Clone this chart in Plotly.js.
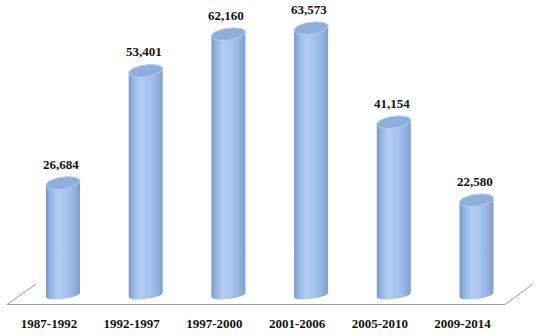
<!DOCTYPE html>
<html>
<head>
<meta charset="utf-8">
<script src="https://cdn.plot.ly/plotly-3.0.1.min.js"></script>
<style>html,body{margin:0;padding:0;background:#fff;}#chart{width:538px;height:336px;}</style>
</head>
<body>
<div id="chart"></div>
<script>
// ---- data ----
const categories = ['1987-1992', '1992-1997', '1997-2000', '2001-2006', '2005-2010', '2009-2014'];
const values = [26684, 53401, 62160, 63573, 41154, 22580];

// ---- layout geometry ----
const W = 538, H = 336;
const MB = 28;                       // bottom margin
const plotH = H - MB;
const xRange = [-0.5925, 5.913];
const yRange = [-3098, 70299];
const xu = (xRange[1] - xRange[0]) / W;      // x units per px
const yu = (yRange[1] - yRange[0]) / plotH;  // y units per px

const depthPx = 14;     // cylinder shift to the right (3D depth)
const halfW = 17;       // cylinder half width, px
const topB = 6;         // top ellipse vertical semi-axis, px
const botB = 4;         // bottom ellipse vertical semi-axis, px
const shear = 0.12;     // perspective tilt
const N = 48;

const fontFam = '"Liberation Serif", "Times New Roman", serif';
const traces = [];
const annotations = [];

values.forEach((v, i) => {
  const xc = i + depthPx * xu;
  const a = halfW * xu;
  // body polygon
  const bx = [], by = [];
  // bottom front arc (screen-lower half): t from PI to 2PI
  for (let k = 0; k <= N; k++) {
    const t = Math.PI + Math.PI * k / N;
    bx.push(xc + a * Math.cos(t));
    by.push((botB * Math.sin(t) + shear * halfW * Math.cos(t)) * yu);
  }
  // top back arc: t from 0 to PI
  for (let k = 0; k <= N; k++) {
    const t = Math.PI * k / N;
    bx.push(xc + a * Math.cos(t));
    by.push(v + (topB * Math.sin(t) + shear * halfW * Math.cos(t)) * yu);
  }
  bx.push(bx[0]); by.push(by[0]);
  traces.push({
    type: 'scatter', mode: 'lines', x: bx, y: by, fill: 'toself',
    line: {width: 0, color: 'rgba(0,0,0,0)'},
    fillgradient: {
      type: 'horizontal', start: xc - a, stop: xc + a,
      colorscale: [[0, '#7898c6'], [0.12, '#92b3e0'], [0.35, '#b2cdf3'], [0.6, '#a6c3ee'], [0.85, '#90b1df'], [1, '#7d9dca']]
    },
    hoverinfo: 'skip', showlegend: false
  });
  // top ellipse
  const tx = [], ty = [];
  for (let k = 0; k <= 2 * N; k++) {
    const t = 2 * Math.PI * k / (2 * N);
    tx.push(xc + a * Math.cos(t));
    ty.push(v + (topB * Math.sin(t) + shear * halfW * Math.cos(t)) * yu);
  }
  traces.push({
    type: 'scatter', mode: 'lines', x: tx, y: ty, fill: 'toself',
    fillcolor: '#8eaedb', line: {width: 1, color: '#b3cbed'},
    hoverinfo: 'skip', showlegend: false
  });
  annotations.push({
    x: xc - 2 * xu, y: v, xref: 'x', yref: 'y', yshift: 19, showarrow: false,
    text: v.toLocaleString('en-US'),
    font: {family: fontFam, size: 13, color: '#111', weight: 'bold'}
  });
});

// floor (perspective plane), paper coordinates from pixel positions
const px = x => x / W;
const py = y => (plotH - y) / plotH;
const floorColor = '#9a9a9a';
const shapes = [
  {type: 'line', xref: 'paper', yref: 'paper', x0: px(7), y0: py(304.5), x1: px(505), y1: py(304.5), line: {color: floorColor, width: 1}},
  {type: 'line', xref: 'paper', yref: 'paper', x0: px(7), y0: py(304.5), x1: px(36), y1: py(284), line: {color: floorColor, width: 1}},
  {type: 'line', xref: 'paper', yref: 'paper', x0: px(505), y0: py(304.5), x1: px(533), y1: py(284), line: {color: floorColor, width: 1}}
];

const layout = {
  width: W, height: H,
  margin: {l: 0, r: 0, t: 0, b: MB, pad: 0},
  paper_bgcolor: '#fff', plot_bgcolor: 'rgba(0,0,0,0)',
  xaxis: {
    range: xRange, showgrid: false, zeroline: false, showline: false,
    tickmode: 'array', tickvals: categories.map((c, i) => i), ticktext: categories,
    ticks: '', ticklabelstandoff: 6,
    tickfont: {family: fontFam, size: 13, color: '#111', weight: 'bold'}
  },
  yaxis: {range: yRange, visible: false, showgrid: false, zeroline: false},
  shapes: shapes,
  annotations: annotations,
  showlegend: false
};

Plotly.newPlot('chart', traces, layout, {staticPlot: true, displayModeBar: false});
</script>
</body>
</html>
